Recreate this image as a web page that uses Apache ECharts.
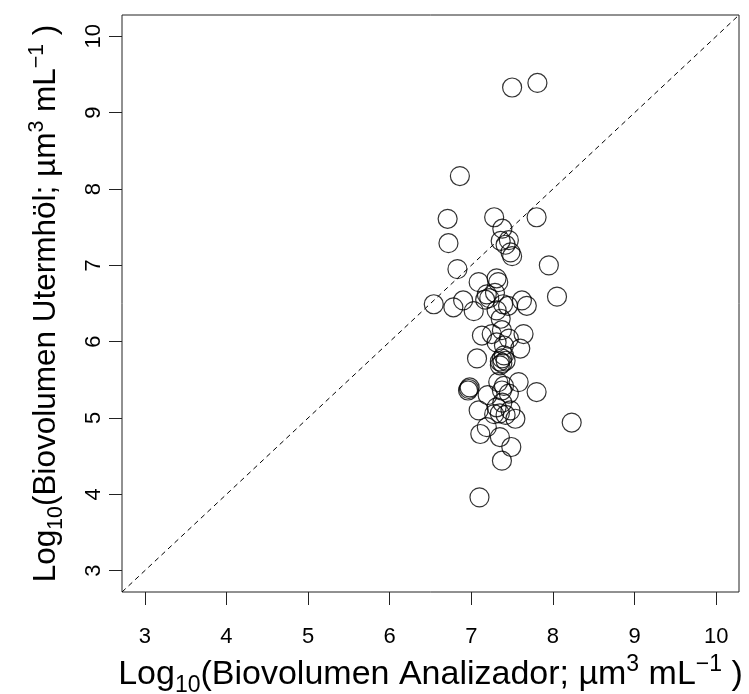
<!DOCTYPE html>
<html>
<head>
<meta charset="utf-8">
<script src="https://cdn.jsdelivr.net/npm/echarts@6/dist/echarts.min.js"></script>
<style>
html,body{margin:0;padding:0;background:#fff;}
#chart{width:749px;height:694px;}
</style>
</head>
<body>
<div id="chart"></div>
<script>
// Log10 biovolume, analyzer (x) vs Utermöhl (y)
const xVals = [
  7.50, 7.81, 6.86, 6.71, 7.28, 7.80, 6.72, 7.38, 7.36, 7.46, 7.42, 7.48, 7.50, 7.95, 6.83, 8.05,
  7.09, 7.31, 7.33, 7.19, 7.29, 7.22, 6.54, 6.78, 6.90, 7.03, 7.17, 7.39, 7.45, 7.62, 7.68, 7.31, 7.36,
  7.13, 7.375, 7.64, 7.31, 7.46, 7.60, 7.25, 7.40,
  7.07, 7.375, 7.40, 7.35, 7.42, 7.35, 7.38,
  6.97, 6.96, 6.98, 7.33, 7.58, 7.80, 7.375, 7.46, 7.40, 7.20,
  7.09, 7.31, 7.35, 7.48, 7.54, 7.42, 7.38, 7.28,
  8.23, 7.19, 7.11, 7.35, 7.49, 7.375, 7.10
];
const yVals = [
  9.33, 9.39, 8.17, 7.61, 7.63, 7.63, 7.29, 7.48, 7.32, 7.33, 7.27, 7.17, 7.12, 7.00, 6.95, 6.59,
  6.78, 6.83, 6.78, 6.62, 6.64, 6.57, 6.49, 6.45, 6.54, 6.40, 6.55, 6.49, 6.47, 6.54, 6.47, 6.41, 6.30,
  6.08, 6.15, 6.10, 5.99, 6.04, 5.91, 6.10, 5.95,
  5.78, 5.78, 5.82, 5.74, 5.75, 5.69, 5.72,
  5.38, 5.36, 5.40, 5.47, 5.47, 5.34, 5.36, 5.32, 5.42, 5.30,
  5.10, 5.14, 5.06, 5.10, 4.99, 5.04, 5.20, 5.05,
  4.94, 4.88, 4.79, 4.75, 4.62, 4.44, 3.96
];
const tickVals = [3, 4, 5, 6, 7, 8, 9, 10];
const axisMin = 2.72, axisMax = 10.28;
const refLine = [[axisMin, axisMin], [axisMax, axisMax]];

const points = xVals.map((x, i) => [x, yVals[i]]);
const FONT = '"Liberation Sans", Arial, sans-serif';

function richName(size) {
  const k = size / 34;
  return {
    m: {fontSize: size, lineHeight: 44 * k, verticalAlign: 'middle', fontFamily: FONT, color: '#000'},
    s: {fontSize: 23 * k, lineHeight: 18 * k, verticalAlign: 'bottom', fontFamily: FONT, color: '#000'},
    p: {fontSize: 23 * k, lineHeight: 22 * k, verticalAlign: 'top', fontFamily: FONT, color: '#000'}
  };
}

const chart = echarts.init(document.getElementById('chart'), null, {renderer: 'canvas'});
chart.setOption({
  animation: false,
  backgroundColor: '#fff',
  grid: {left: 122, top: 15, right: 10, bottom: 102, show: true, borderColor: '#222', borderWidth: 1,
         backgroundColor: 'transparent', containLabel: false, outerBoundsMode: 'none'},
  xAxis: {
    type: 'value', min: axisMin, max: axisMax,
    axisLine: {show: false},
    splitLine: {show: false},
    axisTick: {show: true, inside: false, length: 13, customValues: tickVals, lineStyle: {color: '#222', width: 1}},
    axisLabel: {customValues: tickVals, fontSize: 22, color: '#000', margin: 34, fontFamily: FONT},
    name: '{m|Log}{s|10}{m|(Biovolumen Analizador; µm}{p|3}{m| mL}{p|−1}{m| )}',
    nameLocation: 'middle', nameGap: 55,
    nameTextStyle: {rich: richName(34)}
  },
  yAxis: {
    type: 'value', min: axisMin, max: axisMax,
    axisLine: {show: false},
    splitLine: {show: false},
    axisTick: {show: true, inside: false, length: 13, customValues: tickVals, lineStyle: {color: '#222', width: 1}},
    axisLabel: {customValues: tickVals, fontSize: 22, color: '#000', margin: 17, rotate: 90, fontFamily: FONT},
    name: '{m|Log}{s|10}{m|(Biovolumen Utermhöl; µm}{p|3}{m| mL}{p|−1}{m| )}',
    nameLocation: 'middle', nameGap: 55,
    nameTextStyle: {rich: richName(31.5)}
  },
  series: [
    {
      type: 'line', data: refLine, symbol: 'none', silent: true,
      lineStyle: {color: '#000', width: 1, type: [5, 4]}
    },
    {
      type: 'scatter', data: points, symbol: 'circle', symbolSize: 19,
      itemStyle: {color: 'rgba(0,0,0,0)', borderColor: '#000', borderWidth: 1.2}
    }
  ]
});
</script>
</body>
</html>
